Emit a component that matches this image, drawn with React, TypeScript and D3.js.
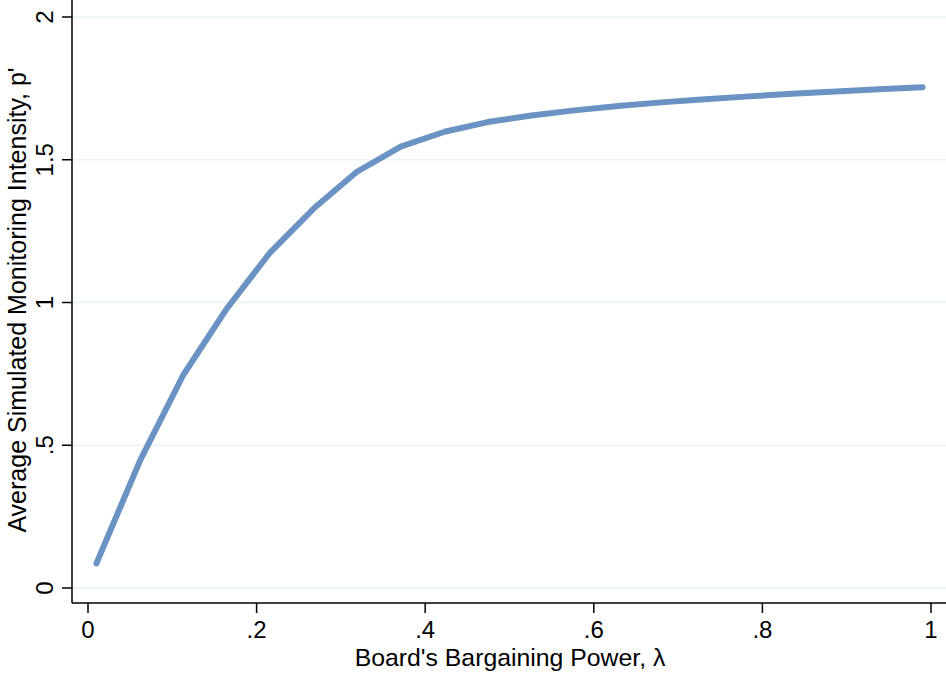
import React, { useEffect, useRef } from 'react';
import * as d3 from 'd3';

// board's bargaining power (lambda) and average simulated monitoring intensity
const lambdaValues = [
  0.01, 0.062, 0.113, 0.165, 0.216, 0.268, 0.319, 0.371, 0.423, 0.474,
  0.526, 0.577, 0.629, 0.68, 0.732, 0.784, 0.835, 0.887, 0.938, 0.99,
];
const monitoring = [
  0.086, 0.448, 0.746, 0.98, 1.175, 1.33, 1.458, 1.546, 1.598, 1.632,
  1.655, 1.673, 1.688, 1.701, 1.712, 1.722, 1.731, 1.739, 1.747, 1.754,
];
const xTicks = [0, 0.2, 0.4, 0.6, 0.8, 1];
const xTickLabels = ['0', '.2', '.4', '.6', '.8', '1'];
const yTicks = [0, 0.5, 1, 1.5, 2];
const yTickLabels = ['0', '.5', '1', '1.5', '2'];

const W = 946;
const H = 673;
const FONT = '"Liberation Sans", Arial, Helvetica, sans-serif';

const App = () => {
  const svgRef = useRef<SVGSVGElement>(null);

  useEffect(() => {
    const svg = d3.select(svgRef.current);
    svg.selectAll('*').remove();

    const axisX = 72; // left axis line
    const axisY = 603; // bottom axis line

    const x = d3.scaleLinear().domain([0, 1]).range([88, 931]);
    const y = d3.scaleLinear().domain([0, 2]).range([588, 17]);

    // white background
    svg.append('rect').attr('width', W).attr('height', H).attr('fill', '#fff');

    // horizontal grid lines
    svg
      .append('g')
      .selectAll('line')
      .data(yTicks)
      .join('line')
      .attr('x1', axisX)
      .attr('x2', W)
      .attr('y1', (d) => y(d))
      .attr('y2', (d) => y(d))
      .attr('stroke', '#eaf2f3')
      .attr('stroke-width', 1.5);

    // y axis
    const gy = svg.append('g');
    gy.append('line')
      .attr('x1', axisX)
      .attr('x2', axisX)
      .attr('y1', 0)
      .attr('y2', axisY)
      .attr('stroke', '#000')
      .attr('stroke-width', 1.5);
    gy.selectAll('line.tick')
      .data(yTicks)
      .join('line')
      .attr('class', 'tick')
      .attr('x1', axisX - 10)
      .attr('x2', axisX)
      .attr('y1', (d) => y(d))
      .attr('y2', (d) => y(d))
      .attr('stroke', '#000')
      .attr('stroke-width', 1.5);
    gy.selectAll('text')
      .data(yTicks)
      .join('text')
      .attr('transform', (d) => `translate(53,${y(d)}) rotate(-90)`)
      .attr('text-anchor', 'middle')
      .style('font-family', FONT)
      .style('font-size', '24px')
      .text((d, i) => yTickLabels[i]);

    // x axis
    const gx = svg.append('g');
    gx.append('line')
      .attr('x1', axisX)
      .attr('x2', W)
      .attr('y1', axisY)
      .attr('y2', axisY)
      .attr('stroke', '#000')
      .attr('stroke-width', 1.5);
    gx.selectAll('line.tick')
      .data(xTicks)
      .join('line')
      .attr('class', 'tick')
      .attr('x1', (d) => x(d))
      .attr('x2', (d) => x(d))
      .attr('y1', axisY)
      .attr('y2', axisY + 10)
      .attr('stroke', '#000')
      .attr('stroke-width', 1.5);
    gx.selectAll('text')
      .data(xTicks)
      .join('text')
      .attr('x', (d) => x(d))
      .attr('y', 638)
      .attr('text-anchor', 'middle')
      .style('font-family', FONT)
      .style('font-size', '24px')
      .text((d, i) => xTickLabels[i]);

    // axis titles
    svg
      .append('text')
      .attr('x', 510)
      .attr('y', 666)
      .attr('text-anchor', 'middle')
      .style('font-family', FONT)
      .style('font-size', '24.8px')
      .text("Board's Bargaining Power, λ");

    svg
      .append('text')
      .attr('transform', `translate(26,300) rotate(-90)`)
      .attr('text-anchor', 'middle')
      .style('font-family', FONT)
      .style('font-size', '25px')
      .text("Average Simulated Monitoring Intensity, p'");

    // the curve
    const pts = lambdaValues.map((l, i) => [l, monitoring[i]] as [number, number]);
    svg
      .append('path')
      .datum(pts)
      .attr('fill', 'none')
      .attr('stroke', '#6a93c4')
      .attr('stroke-width', 6)
      .attr('stroke-linecap', 'round')
      .attr('stroke-linejoin', 'round')
      .attr(
        'd',
        d3
          .line<[number, number]>()
          .x((d) => x(d[0]))
          .y((d) => y(d[1]))
      );
  }, []);

  return (
    <svg
      ref={svgRef}
      width={W}
      height={H}
      style={{ display: 'block', position: 'absolute', left: 0, top: 0 }}
    />
  );
};

export default App;
